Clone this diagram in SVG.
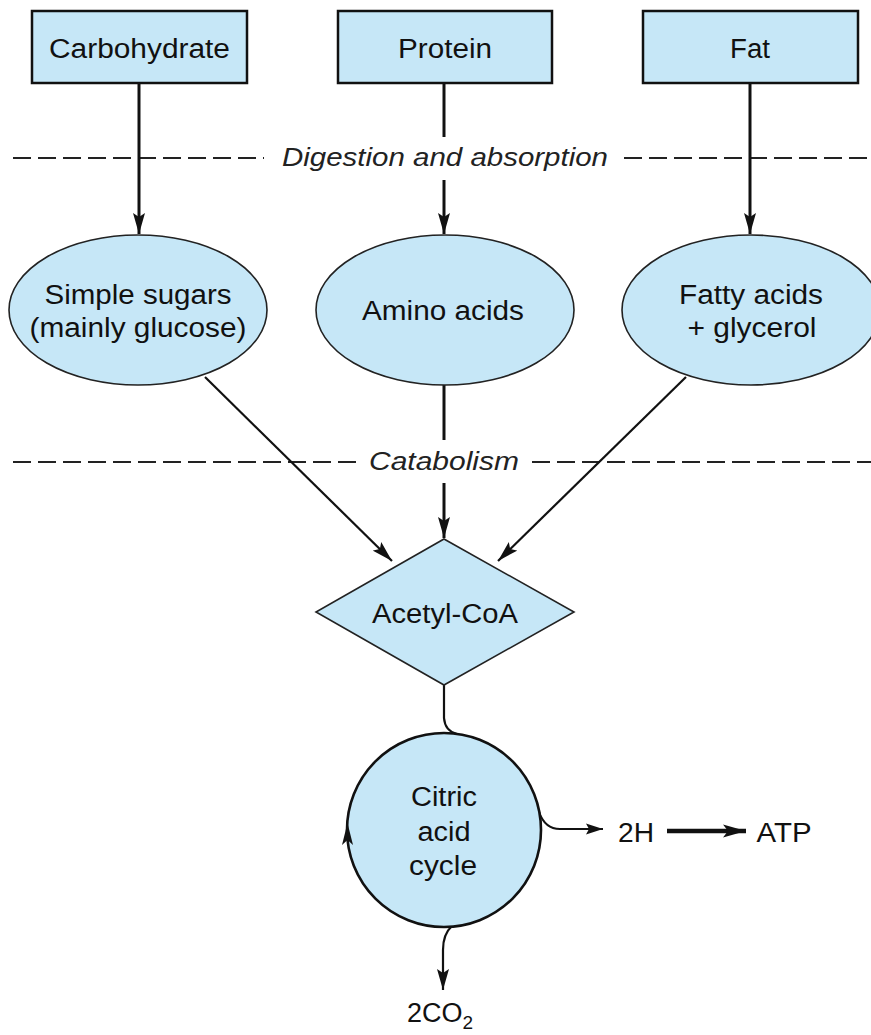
<svg xmlns="http://www.w3.org/2000/svg" width="871" height="1035" viewBox="0 0 871 1035">
<style>
.box{fill:#c6e7f7;stroke:#111;stroke-width:2.5}
.ell{fill:#c6e7f7;stroke:#222;stroke-width:1.6}
.lbl{font-family:"Liberation Sans",Arial,sans-serif;font-size:27px;fill:#111;text-anchor:middle}
.it{font-family:"Liberation Sans",Arial,sans-serif;font-size:26px;font-style:italic;fill:#222;text-anchor:middle}
.dash{stroke:#222;stroke-width:2;stroke-dasharray:18 7;fill:none}
.ar{stroke:#111;stroke-width:3;fill:none}
.ar2{stroke:#111;stroke-width:2.2;fill:none}
</style>
<defs>
<marker id="ah" markerUnits="userSpaceOnUse" markerWidth="22" markerHeight="13" refX="21" refY="6.5" orient="auto">
<path d="M0,0.5 L21,6.5 L0,12.5 L4,6.5 Z" fill="#111"/>
</marker>
<marker id="ahs" markerUnits="userSpaceOnUse" markerWidth="18" markerHeight="12" refX="17" refY="6" orient="auto">
<path d="M0,0.5 L17,6 L0,11.5 L3,6 Z" fill="#111"/>
</marker>
<marker id="ahb" markerUnits="userSpaceOnUse" markerWidth="24" markerHeight="15" refX="23" refY="7.5" orient="auto">
<path d="M0,1 L23,7.5 L0,14 L5,7.5 Z" fill="#111"/>
</marker>
</defs>

<g id="dividers">
<line class="dash" x1="13" y1="158" x2="264" y2="158"/>
<line class="dash" x1="624" y1="158" x2="871" y2="158"/>
<text class="it" x="445" y="166" textLength="326" lengthAdjust="spacingAndGlyphs">Digestion and absorption</text>
<line class="dash" x1="13" y1="462" x2="357" y2="462"/>
<line class="dash" x1="532" y1="462" x2="871" y2="462"/>
<text class="it" x="444" y="470" textLength="150" lengthAdjust="spacingAndGlyphs">Catabolism</text>
</g>

<g id="connectors">
<line class="ar" x1="139" y1="83" x2="139" y2="234" marker-end="url(#ah)"/>
<line class="ar" x1="444" y1="83" x2="444" y2="137"/>
<line class="ar" x1="444" y1="180" x2="444" y2="234" marker-end="url(#ah)"/>
<line class="ar" x1="750" y1="83" x2="750" y2="234" marker-end="url(#ah)"/>
<line class="ar2" x1="205" y1="377" x2="392" y2="561" marker-end="url(#ah)"/>
<line class="ar" x1="444" y1="385" x2="444" y2="440"/>
<line class="ar" x1="444" y1="483" x2="444" y2="538" marker-end="url(#ah)"/>
<line class="ar2" x1="686" y1="377" x2="498" y2="561" marker-end="url(#ah)"/>
<path class="ar2" d="M444,685 V718 Q445,731 457,734"/>
<path class="ar2" d="M539,812 Q545,829 560,829 H603" marker-end="url(#ahs)"/>
<path class="ar2" d="M452,926 Q443,934 443,950 V990" marker-end="url(#ah)"/>
<line stroke="#111" stroke-width="4.5" x1="667" y1="831" x2="746" y2="831" marker-end="url(#ahb)"/>
</g>

<g id="carbohydrate">
<rect class="box" x="32" y="11" width="215" height="72"/>
<text class="lbl" x="139.5" y="58" textLength="181" lengthAdjust="spacingAndGlyphs">Carbohydrate</text>
</g>
<g id="protein">
<rect class="box" x="338" y="11" width="214" height="72"/>
<text class="lbl" x="445" y="58" textLength="94" lengthAdjust="spacingAndGlyphs">Protein</text>
</g>
<g id="fat">
<rect class="box" x="643" y="11" width="215" height="72"/>
<text class="lbl" x="750" y="58" textLength="40" lengthAdjust="spacingAndGlyphs">Fat</text>
</g>

<g id="simple-sugars">
<ellipse class="ell" cx="138" cy="310" rx="129" ry="75"/>
<text class="lbl" x="138" y="304" textLength="187" lengthAdjust="spacingAndGlyphs">Simple sugars</text>
<text class="lbl" x="138" y="337" textLength="217" lengthAdjust="spacingAndGlyphs">(mainly glucose)</text>
</g>
<g id="amino-acids">
<ellipse class="ell" cx="445" cy="310" rx="129" ry="75"/>
<text class="lbl" x="443" y="320" textLength="162" lengthAdjust="spacingAndGlyphs">Amino acids</text>
</g>
<g id="fatty-acids">
<ellipse class="ell" cx="751" cy="310" rx="129" ry="75"/>
<text class="lbl" x="751" y="304" textLength="144" lengthAdjust="spacingAndGlyphs">Fatty acids</text>
<text class="lbl" x="752" y="337" textLength="129" lengthAdjust="spacingAndGlyphs">+ glycerol</text>
</g>

<g id="acetyl-coa">
<polygon class="ell" points="444,539 574,612 444,685 316,612"/>
<text class="lbl" x="445" y="623" textLength="146" lengthAdjust="spacingAndGlyphs">Acetyl-CoA</text>
</g>

<g id="citric-acid-cycle">
<circle cx="444" cy="830" r="97" fill="#c6e7f7" stroke="#111" stroke-width="2.6"/>
<polygon points="347.5,823 342,845 347.5,840 353,845" fill="#111"/>
<text class="lbl" x="444" y="806" textLength="66" lengthAdjust="spacingAndGlyphs">Citric</text>
<text class="lbl" x="444" y="841" textLength="53" lengthAdjust="spacingAndGlyphs">acid</text>
<text class="lbl" x="443" y="875" textLength="68" lengthAdjust="spacingAndGlyphs">cycle</text>
</g>

<g id="h2">
<text class="lbl" x="636" y="842" textLength="36" lengthAdjust="spacingAndGlyphs">2H</text>
</g>
<g id="atp">
<text class="lbl" x="784" y="842" textLength="55" lengthAdjust="spacingAndGlyphs">ATP</text>
</g>
<g id="co2">
<text class="lbl" x="407" y="1022" style="text-anchor:start">2CO<tspan font-size="19" dy="7">2</tspan></text>
</g>
</svg>
